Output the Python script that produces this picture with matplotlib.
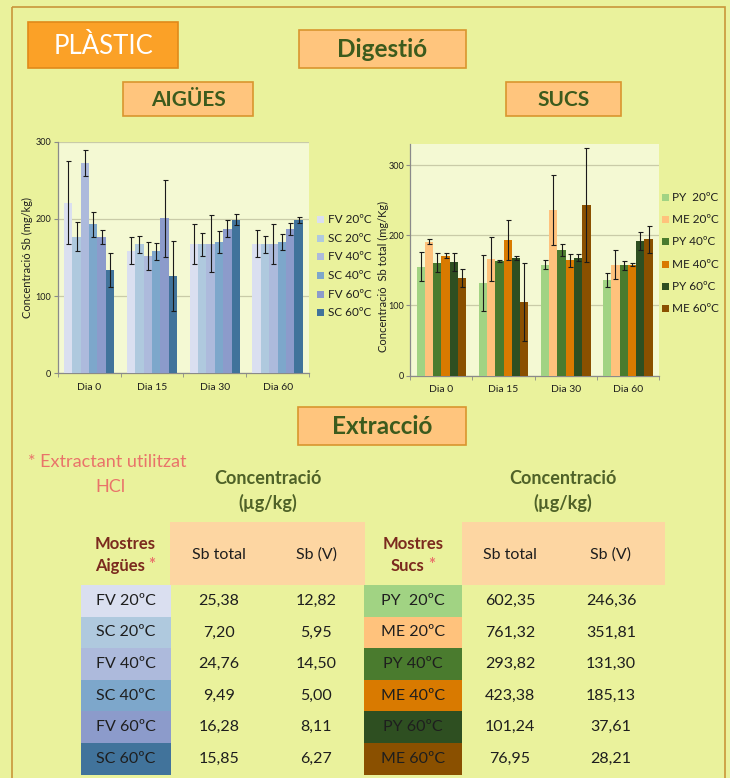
import matplotlib
matplotlib.use('Agg')
import matplotlib.pyplot as plt
from matplotlib.patches import Rectangle
import numpy as np

plt.rcParams['font.family'] = ['Lato', 'DejaVu Sans']

W, H = 730, 778

# ---- digestion data (mg/kg) ----
days = ['Dia 0', 'Dia 15', 'Dia 30', 'Dia 60']

water_series = ['FV 20ºC', 'SC 20ºC', 'FV 40ºC', 'SC 40ºC', 'FV 60ºC', 'SC 60ºC']
water_fv20 = [221, 159, 168, 168]
water_sc20 = [177, 167, 167, 167]
water_fv40 = [272, 152, 168, 168]
water_sc40 = [193, 158, 170, 170]
water_fv60 = [176, 201, 187, 187]
water_sc60 = [134, 126, 199, 199]
water_err_fv20 = [54, 18, 26, 18]
water_err_sc20 = [19, 11, 15, 11]
water_err_fv40 = [17, 18, 37, 26]
water_err_sc40 = [16, 11, 14, 10]
water_err_fv60 = [9, 50, 11, 8]
water_err_sc60 = [22, 45, 7, 4]
water_colors = ['#DADFF0', '#AFC9DE', '#ADBADC', '#7DA7CB', '#8C9BCB', '#41739B']

juice_series = ['PY  20ºC', 'ME 20ºC', 'PY 40ºC', 'ME 40ºC', 'PY 60ºC', 'ME 60ºC']
juice_py20 = [155, 132, 158, 136]
juice_me20 = [191, 166, 236, 158]
juice_py40 = [161, 163, 179, 157]
juice_me40 = [171, 193, 164, 158]
juice_py60 = [162, 168, 168, 192]
juice_me60 = [139, 105, 243, 194]
juice_err_py20 = [21, 40, 6, 10]
juice_err_me20 = [3, 32, 50, 21]
juice_err_py40 = [14, 1, 8, 6]
juice_err_me40 = [3, 29, 9, 2]
juice_err_py60 = [13, 3, 5, 13]
juice_err_me60 = [13, 56, 81, 19]
juice_colors = ['#A1D383', '#FFC27C', '#4A7B2E', '#D97A00', '#2E4F21', '#8A5000']

# ---- extraction data (µg/kg) ----
water_sb_total = [25.38, 7.20, 24.76, 9.49, 16.28, 15.85]
water_sb_v = [12.82, 5.95, 14.50, 5.00, 8.11, 6.27]
juice_sb_total = [602.35, 761.32, 293.82, 423.38, 101.24, 76.95]
juice_sb_v = [246.36, 351.81, 131.30, 185.13, 37.61, 28.21]

water_vals = [water_fv20, water_sc20, water_fv40, water_sc40, water_fv60, water_sc60]
water_errs = [water_err_fv20, water_err_sc20, water_err_fv40, water_err_sc40,
              water_err_fv60, water_err_sc60]
juice_vals = [juice_py20, juice_me20, juice_py40, juice_me40, juice_py60, juice_me60]
juice_errs = [juice_err_py20, juice_err_me20, juice_err_py40, juice_err_me40,
              juice_err_py60, juice_err_me60]

PAGE = '#EAF29C'
PLOT_BG = '#F4F9D3'
BORDER = '#C9963A'
BOX = '#FFC57D'
BOX_EDGE = '#D9962E'
DARK_GREEN = '#3C5B1D'
OLIVE = '#4F6228'
BROWN_RED = '#7B2A1E'
SALMON = '#E9736A'
PEACH = '#FDD6A2'
TXT = '#1E1E1E'

fig = plt.figure(figsize=(W / 100, H / 100), dpi=100, facecolor=PAGE)

# full-page overlay in pixel coordinates
ov = fig.add_axes([0, 0, 1, 1], zorder=0)
ov.set_xlim(0, W)
ov.set_ylim(H, 0)
ov.axis('off')


def box(x0, y0, x1, y1, fc, ec, lw=1.2):
    ov.add_patch(Rectangle((x0, y0), x1 - x0, y1 - y0, fc=fc, ec=ec, lw=lw))


def txt(x, y, s, size, color=TXT, weight='normal', ha='center', **kw):
    ov.text(x, y, s, fontsize=size, color=color, fontweight=weight,
            ha=ha, va='center', **kw)


# page frame
ov.add_patch(Rectangle((12, 7), 713, 800, fc='none', ec=BORDER, lw=1.2))

# title boxes
box(28, 22, 178, 68, '#FBA127', '#E08A1A')
txt(103, 46, 'PLÀSTIC', 18.5, color='white')
box(299, 30, 466, 68, BOX, BOX_EDGE)
txt(382.5, 49, 'Digestió', 17.5, color=DARK_GREEN, weight='bold')
box(123, 82, 253, 116, BOX, BOX_EDGE)
txt(188, 99.5, 'AIGÜES', 15, color=DARK_GREEN, weight='bold')
box(506, 82, 621, 116, BOX, BOX_EDGE)
txt(563.5, 99.5, 'SUCS', 15, color=DARK_GREEN, weight='bold')
box(298, 407, 466, 445, BOX, BOX_EDGE)
txt(382, 426, 'Extracció', 17.5, color=DARK_GREEN, weight='bold')


def px_axes(x0, y0, x1, y1):
    return fig.add_axes([x0 / W, 1 - y1 / H, (x1 - x0) / W, (y1 - y0) / H], zorder=2)


def bar_chart(ax, vals, errs, colors, ymax, ylabel):
    n = len(vals)
    bw = 0.8 / n
    x = np.arange(len(days))
    for i in range(n):
        ax.bar(x + (i - (n - 1) / 2) * bw, vals[i], bw, yerr=errs[i],
               color=colors[i], zorder=3,
               error_kw=dict(ecolor='#1A1A1A', elinewidth=0.8, capsize=1.8,
                             capthick=0.8, zorder=4))
    ax.set_facecolor(PLOT_BG)
    ax.set_xlim(-0.5, len(days) - 0.5)
    ax.set_ylim(0, ymax)
    ax.set_yticks([0, 100, 200, 300])
    ax.grid(axis='y', color='#C9CBA8', lw=0.9, zorder=1)
    for s in ['top', 'right']:
        ax.spines[s].set_visible(False)
    for s in ['left', 'bottom']:
        ax.spines[s].set_color('#8A8A8A')
        ax.spines[s].set_linewidth(0.9)
    ax.set_xticks(x)
    ax.set_xticklabels(days, fontsize=7.5, color=TXT)
    ax.set_xticks(np.arange(len(days) + 1) - 0.5, minor=True)
    ax.tick_params(axis='x', which='major', length=0, pad=7)
    ax.tick_params(axis='x', which='minor', length=3, color='#8A8A8A')
    ax.tick_params(axis='y', length=3, color='#8A8A8A', labelsize=6.5,
                   labelcolor=TXT, pad=1.5)
    ax.set_ylabel(ylabel, fontsize=8, color=TXT)


axL = px_axes(57.7, 141.7, 309, 373.3)
bar_chart(axL, water_vals, water_errs, water_colors, 300, 'Concentració Sb (mg/kg)')
axL.yaxis.set_label_coords(-0.1, 0.5)

axR = px_axes(410.3, 144, 659, 375.5)
bar_chart(axR, juice_vals, juice_errs, juice_colors, 330,
          'Concentració  Sb total (mg/Kg)')
axR.yaxis.set_label_coords(-0.085, 0.43)


def legend(names, colors, x_sq, x_txt, y0, dy, size):
    for i, (nm, c) in enumerate(zip(names, colors)):
        y = y0 + i * dy
        ov.add_patch(Rectangle((x_sq, y - 3.5), 7, 7, fc=c, ec='none'))
        ov.text(x_txt, y, nm, fontsize=size, color=TXT, ha='left', va='center')


legend(water_series, water_colors, 317, 327.5, 219.3, 18.7, 8.5)
legend(juice_series, juice_colors, 662, 671.5, 197.7, 22.1, 8.5)

# ---- extraction table ----
ov.text(28, 462, '* Extractant utilitzat', fontsize=13, color=SALMON, ha='left', va='center')
ov.text(95, 487, 'HCl', fontsize=13, color=SALMON, ha='left', va='center')

for cx in (268, 563):
    txt(cx, 478, 'Concentració', 13, color=OLIVE, weight='bold')
    txt(cx, 503, '(µg/kg)', 13, color=OLIVE, weight='bold')

box(170, 522, 365, 585, PEACH, 'none', lw=0)
box(462, 522, 665, 585, PEACH, 'none', lw=0)
txt(219, 555, 'Sb total', 11.5)
txt(316, 555, 'Sb (V)', 11.5)
txt(510, 555, 'Sb total', 11.5)
txt(611, 555, 'Sb (V)', 11.5)

# sample column headers, with salmon asterisks
txt(125.5, 544, 'Mostres', 12, color=BROWN_RED, weight='bold')
ov.text(145, 566, 'Aigües', fontsize=12, color=BROWN_RED, fontweight='bold',
        ha='right', va='center')
ov.text(148, 565, '*', fontsize=12, color=SALMON, fontweight='bold',
        ha='left', va='center')
txt(413, 544, 'Mostres', 12, color=BROWN_RED, weight='bold')
ov.text(424, 566, 'Sucs', fontsize=12, color=BROWN_RED, fontweight='bold',
        ha='right', va='center')
ov.text(428, 565, '*', fontsize=12, color=SALMON, fontweight='bold',
        ha='left', va='center')


def fmt(v):
    return f'{v:.2f}'.replace('.', ',')


row_top = 585
row_h = 31.6
for i in range(6):
    y0 = row_top + i * row_h
    yc = y0 + row_h / 2
    box(80.5, y0, 171, y0 + row_h, water_colors[i], 'none', lw=0)
    txt(125.5, yc, water_series[i], 11.5)
    txt(219, yc, fmt(water_sb_total[i]), 11.5)
    txt(316, yc, fmt(water_sb_v[i]), 11.5)
    box(364, y0, 462, y0 + row_h, juice_colors[i], 'none', lw=0)
    txt(413, yc, juice_series[i], 11.5)
    txt(510, yc, fmt(juice_sb_total[i]), 11.5)
    txt(611, yc, fmt(juice_sb_v[i]), 11.5)

fig.savefig('out.png', dpi=100, facecolor=PAGE)
